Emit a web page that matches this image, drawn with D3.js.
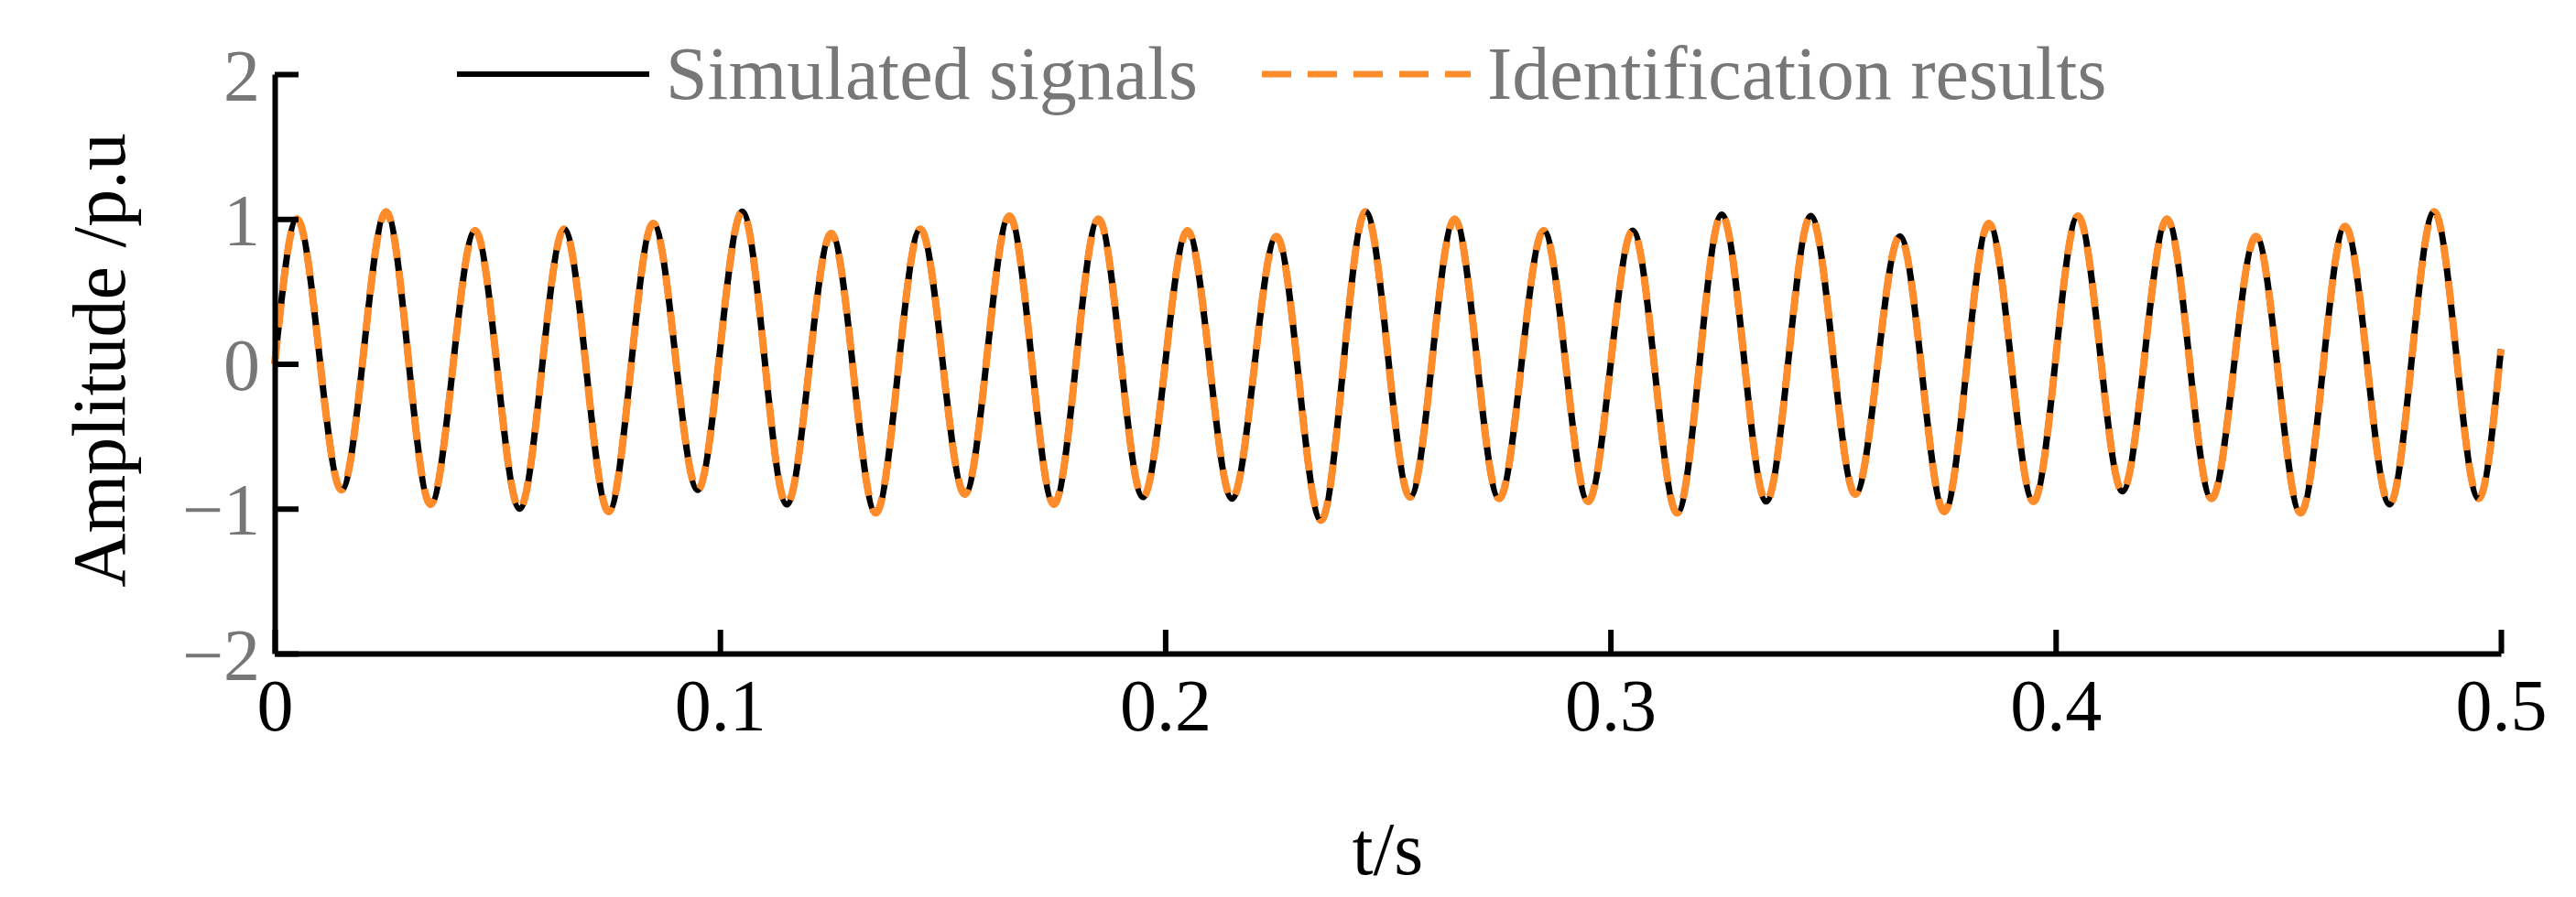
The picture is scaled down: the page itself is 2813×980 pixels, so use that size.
<!DOCTYPE html>
<html>
<head>
<meta charset="utf-8">
<script src="https://cdn.jsdelivr.net/npm/d3@7"></script>
<style>
  body { margin: 0; background: #fff; }
  text { font-family: "Liberation Serif", "Times New Roman", serif; }
</style>
</head>
<body>
<div id="chart"></div>
<script>
const width = 2813;
const height = 980;
const margin = { top: 81, right: 82, bottom: 266, left: 300 };

// Signal extrema (50 Hz, one peak and one trough per 0.02 s)
const peakValues = [1.0, 1.05, 0.92, 0.93, 0.97, 1.05, 0.9, 0.93, 1.02, 1.0, 0.92, 0.88, 1.05,
    1.0, 0.92, 0.92, 1.03, 1.02, 0.88, 0.97, 1.02, 1.0, 0.88, 0.95, 1.05];
const troughValues = [-0.87, -0.97, -1.0, -1.02, -0.87, -0.97, -1.03, -0.9, -0.97, -0.92, -0.93, -1.08,
    -0.92, -0.93, -0.95, -1.03, -0.95, -0.9, -1.02, -0.95, -0.88, -0.93, -1.03, -0.97, -0.93];
const peakTimes = peakValues.map((v, i) => 0.005 + 0.02 * i);
const troughTimes = troughValues.map((v, i) => 0.015 + 0.02 * i);
const startPoint = { t: 0, v: 0 };
const endPoint = { t: 0.5, v: 0.1 };

const xTicks = [0, 0.1, 0.2, 0.3, 0.4, 0.5];
const yTicks = [-2, -1, 0, 1, 2];
const seriesNames = ["Simulated signals", "Identification results"];

const signal = [startPoint];
peakValues.forEach((v, i) => {
    signal.push({ t: peakTimes[i], v: v });
    signal.push({ t: troughTimes[i], v: troughValues[i] });
});
signal.push(endPoint);

const svg = d3.select("#chart").append("svg")
    .attr("width", width)
    .attr("height", height);

const x = d3.scaleLinear().domain([0, 0.5]).range([margin.left, width - margin.right]);
const y = d3.scaleLinear().domain([-2, 2]).range([height - margin.bottom, margin.top]);

const line = d3.line()
    .x(d => x(d.t))
    .y(d => y(d.v))
    .curve(d3.curveMonotoneX);

// Curves
svg.append("path")
    .datum(signal)
    .attr("fill", "none")
    .attr("stroke", "#000")
    .attr("stroke-width", 7)
    .attr("d", line);

svg.append("path")
    .datum(signal)
    .attr("fill", "none")
    .attr("stroke", "#ff8c2a")
    .attr("stroke-width", 8)
    .attr("stroke-dasharray", "26,14")
    .attr("d", line);

// Axes (ticks pointing inward)
const xAxis = svg.append("g")
    .attr("transform", `translate(0, ${y(-2)})`)
    .call(d3.axisBottom(x).tickValues(xTicks).tickSizeInner(-26).tickSizeOuter(0).tickFormat(d => d === 0 ? "0" : d3.format(".1f")(d)));
xAxis.select(".domain").attr("stroke-width", 6);
xAxis.selectAll(".tick line").attr("stroke-width", 6);
xAxis.selectAll(".tick text")
    .attr("y", 84)
    .attr("dy", 0)
    .style("font-size", "80px")
    .attr("fill", "#000");

const yAxis = svg.append("g")
    .attr("transform", `translate(${x(0)}, 0)`)
    .call(d3.axisLeft(y).tickValues(yTicks).tickSizeInner(-26).tickSizeOuter(0).tickFormat(d => d < 0 ? "\u2212" + Math.abs(d) : d));
yAxis.select(".domain").attr("stroke-width", 6);
yAxis.selectAll(".tick line").attr("stroke-width", 6);
yAxis.selectAll(".tick text")
    .attr("x", -16)
    .attr("dy", "0.35em")
    .style("font-size", "80px")
    .attr("fill", "#777");

// Axis titles
svg.append("text")
    .attr("x", x(0.25))
    .attr("y", 955)
    .attr("text-anchor", "middle")
    .style("font-size", "82px")
    .text("t/s");

svg.append("text")
    .attr("transform", `translate(136, ${y(0) - 4}) rotate(-90)`)
    .attr("text-anchor", "middle")
    .style("font-size", "82px")
    .text("Amplitude /p.u");

// Legend
const legendY = 81;
const legend = [
    { x1: 499, x2: 709, tx: 727, color: "#000", dash: null, w: 6 },
    { x1: 1378, x2: 1606, tx: 1624, color: "#ff8c2a", dash: "32,18", w: 7 }
];
legend.forEach((d, i) => {
    svg.append("line")
        .attr("x1", d.x1).attr("x2", d.x2)
        .attr("y1", legendY).attr("y2", legendY)
        .attr("stroke", d.color)
        .attr("stroke-width", d.w)
        .attr("stroke-dasharray", d.dash);
    svg.append("text")
        .attr("x", d.tx)
        .attr("y", legendY + 27)
        .style("font-size", "82px")
        .attr("fill", "#777")
        .text(seriesNames[i]);
});
</script>
</body>
</html>
